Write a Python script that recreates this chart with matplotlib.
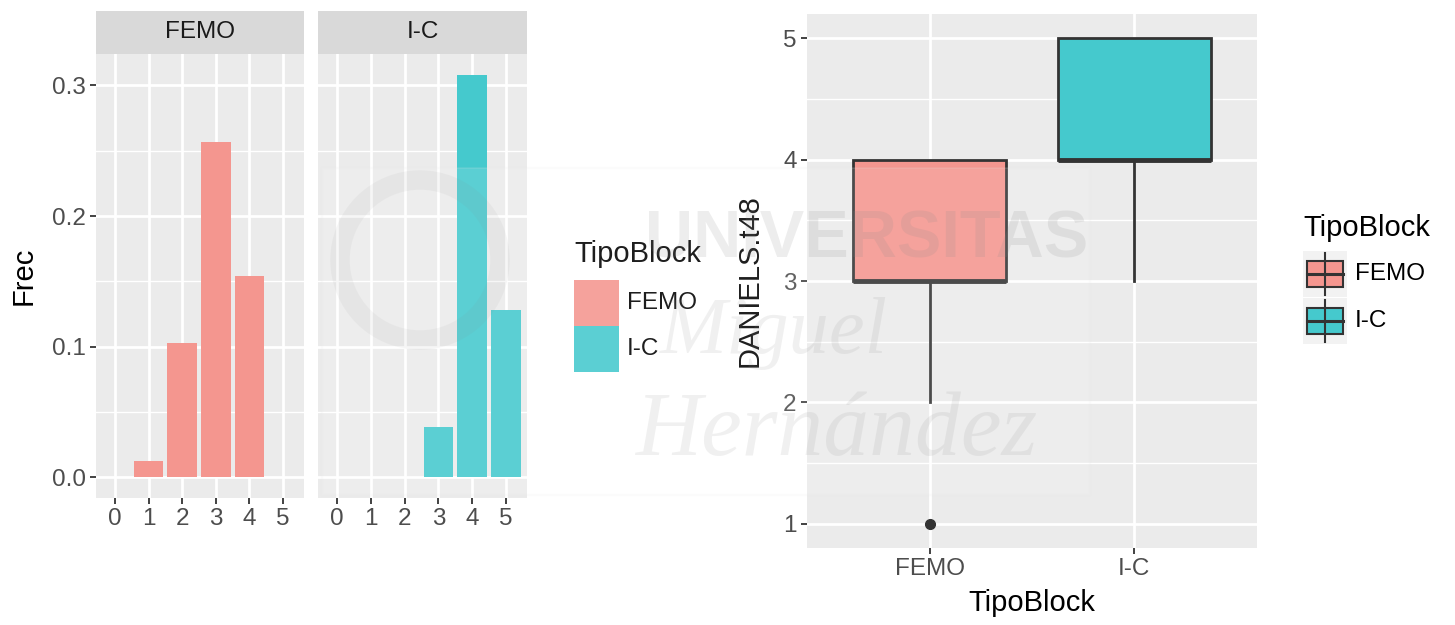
import numpy as np
import matplotlib
matplotlib.use("Agg")
import matplotlib.pyplot as plt
import matplotlib.patches as patches

# data: counts of DANIELS.t48 score per TipoBlock
scores = np.array([0, 1, 2, 3, 4, 5])
groups = ["FEMO", "I-C"]
femo_counts = np.array([0, 1, 8, 20, 12, 0])
ic_counts = np.array([0, 0, 0, 3, 24, 10])
total = femo_counts.sum() + ic_counts.sum()
counts = {"FEMO": femo_counts, "I-C": ic_counts}
colors = {"FEMO": "#F4968F", "I-C": "#45C9CD"}

plt.rcParams['font.family'] = ['Liberation Sans', 'DejaVu Sans']

W, H = 1455, 625
fig = plt.figure(figsize=(W / 100, H / 100), dpi=100)


def box(l, t, r, b):
    return [l / W, 1 - b / H, (r - l) / W, (b - t) / H]


def style(ax):
    ax.set_facecolor("#EBEBEB")
    for s in ax.spines.values():
        s.set_visible(False)
    ax.grid(True, which="major", color="white", lw=2.0)
    ax.grid(True, which="minor", color="white", lw=1.0)
    ax.set_axisbelow(True)
    ax.tick_params(which="major", length=4.5, width=1.3, color="#333333",
                   labelsize=17.5, labelcolor="#4D4D4D", pad=3)
    ax.tick_params(which="minor", length=0)


# ---- faceted bar chart ----
facet_x = {"FEMO": (96, 304), "I-C": (318, 527)}
for i, g in enumerate(groups):
    l, r = facet_x[g]
    ax = fig.add_axes(box(l, 54, r, 498))
    style(ax)
    ax.bar(scores, counts[g] / total, width=0.88, color=colors[g], zorder=2)
    ax.set_xlim(-0.57, 5.63)
    ax.set_ylim(-0.0157, 0.324)
    ax.set_xticks(scores)
    ax.set_xticks([], minor=True)
    ax.set_yticks([0.0, 0.1, 0.2, 0.3])
    ax.set_yticks([0.05, 0.15, 0.25], minor=True)
    if i == 0:
        ax.set_yticklabels(["0.0", "0.1", "0.2", "0.3"])
        ax.set_ylabel("Frec", fontsize=21, color="black", labelpad=10)
    else:
        ax.tick_params(axis="y", which="both", length=0, labelleft=False)
    # strip
    sax = fig.add_axes(box(l, 11, r, 54))
    sax.set_facecolor("#D9D9D9")
    sax.set_xticks([])
    sax.set_yticks([])
    for s in sax.spines.values():
        s.set_visible(False)
    sax.text(0.5, 0.5, g, ha="center", va="center", fontsize=17.5,
             color="#1A1A1A", transform=sax.transAxes)

# ---- boxplot ----
bx = fig.add_axes(box(807, 14, 1257, 548))
style(bx)
data = [np.repeat(scores, counts[g]) for g in groups]
bp = bx.boxplot(data, positions=[1, 2], widths=0.75, patch_artist=True,
                whis=1.5, showcaps=False,
                boxprops=dict(edgecolor="#333333", lw=2.0),
                whiskerprops=dict(color="#333333", lw=2.0),
                medianprops=dict(color="#333333", lw=3.5),
                flierprops=dict(marker="o", markerfacecolor="#333333",
                                markeredgecolor="#333333", markersize=7))
for patch, g in zip(bp["boxes"], groups):
    patch.set_facecolor(colors[g])
bx.set_xlim(0.4, 2.6)
bx.set_ylim(0.8, 5.2)
bx.set_xticks([1, 2])
bx.set_xticklabels(groups)
bx.set_yticks([1, 2, 3, 4, 5])
bx.set_yticks([1.5, 2.5, 3.5, 4.5], minor=True)
bx.set_xticks([], minor=True)
bx.set_xlabel("TipoBlock", fontsize=21, color="black", labelpad=6)
bx.set_ylabel("DANIELS.t48", fontsize=21, color="black", labelpad=14)

# ---- legends (drawn in pixel coordinates of an overlay axes) ----
lg = fig.add_axes([0, 0, 1, 1], zorder=5)
lg.set_xlim(0, W)
lg.set_ylim(H, 0)
lg.axis("off")

# left legend (fill keys)
lg.text(574, 254, "TipoBlock", fontsize=21, va="center", ha="left")
for j, g in enumerate(groups):
    top = 280 + j * 46
    lg.add_patch(patches.Rectangle((574, top), 45, 46, facecolor=colors[g],
                                   edgecolor="none"))
    lg.text(627, top + 23, g, fontsize=17.5, va="center", ha="left")

# right legend (boxplot keys)
lg.text(1303, 228, "TipoBlock", fontsize=21, va="center", ha="left")
for j, g in enumerate(groups):
    cy = 274 + j * 47
    lg.add_patch(patches.Rectangle((1303, cy - 23), 44, 46, facecolor="#F2F2F2",
                                   edgecolor="none"))
    lg.plot([1325, 1325], [cy - 21, cy + 21], color="#333333", lw=1.5)
    lg.add_patch(patches.Rectangle((1307, cy - 13), 36, 26, facecolor=colors[g],
                                   edgecolor="#333333", lw=1.5))
    lg.plot([1307, 1343], [cy, cy], color="#333333", lw=2.2)
    lg.text(1355, cy, g, fontsize=17.5, va="center", ha="left")

# ---- watermark ----
lg.add_patch(patches.Rectangle((322, 168), 768, 327, facecolor="white",
                               edgecolor="#E4E4E4", lw=1.5, alpha=0.12, zorder=6))
lg.text(1088, 240, "UNIVERSITAS", fontsize=48, fontweight="bold",
        ha="right", va="center", color="#888888", alpha=0.15, zorder=7)
lg.text(660, 333, "Miguel", fontsize=58, family="Liberation Serif",
        style="italic", ha="left", va="center", color="#888888", alpha=0.12,
        zorder=7)
lg.text(636, 433, "Hernández", fontsize=66, family="Liberation Serif",
        style="italic", ha="left", va="center", color="#888888", alpha=0.12,
        zorder=7)
lg.add_patch(patches.Circle((420, 260), 80, facecolor="none",
                            edgecolor="#888888", lw=14, alpha=0.07, zorder=7))

fig.savefig("out.png", dpi=100)
